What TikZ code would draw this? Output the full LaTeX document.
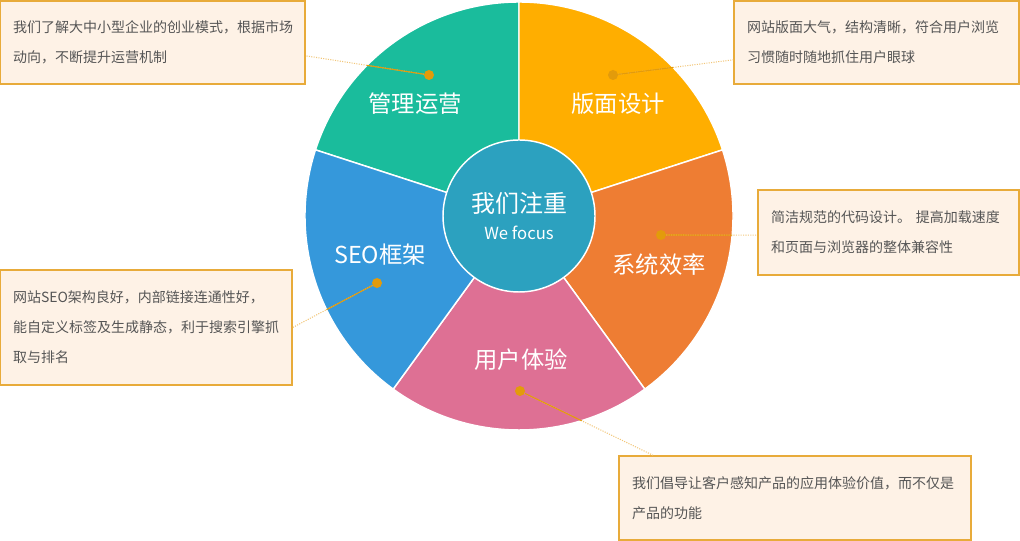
\documentclass[tikz,border=0pt]{standalone}
\usepackage{fontspec}
\newfontfamily\cjk{Noto Sans CJK SC}
\usepackage{xcolor}
\usepackage{tikz}

\definecolor{secteal}{HTML}{1ABC9C}
\definecolor{secgold}{HTML}{FFAE00}
\definecolor{secorange}{HTML}{EE7D33}
\definecolor{secpink}{HTML}{DE7094}
\definecolor{secblue}{HTML}{3598DB}
\definecolor{hubblue}{HTML}{2CA1BF}
\definecolor{notefill}{HTML}{FEF2E6}
\definecolor{noteline}{HTML}{E8AB3A}
\definecolor{pindot}{HTML}{E39B0B}
\definecolor{pinfaint}{HTML}{F2C679}
\definecolor{notetext}{HTML}{555555}

\begin{document}
\begin{tikzpicture}[
x=0.75pt,
y=0.75pt,
every node/.style={font=\cjk},
sector/.style={draw=white,line width=1.1pt},
hubdisc/.style={circle,fill=hubblue,draw=white,line width=1.1pt,minimum size=114pt,inner sep=0pt,text=white,align=center},
seclabel/.style={text=white,font=\cjk\fontsize{17.5}{20}\selectfont},
pin/.style={circle,fill=pindot,inner sep=0pt,minimum size=7.5pt},
note/.style={rectangle,fill=notefill,draw=noteline,line width=1.1pt,text=notetext,align=left,inner xsep=9.75pt,inner ysep=0pt,font=\cjk\fontsize{10.5}{22.5}\selectfont},
pinnear/.style={draw=pindot,line width=0.8pt},
pinfar/.style={draw=pinfaint,line width=0.8pt,densely dotted}
]
\useasboundingbox (0,0) rectangle (1020,541);

% pie
\coordinate (pie) at (519,325);
\foreach \a/\c in {90/secteal,18/secgold,-54/secorange,-126/secpink,162/secblue}
  \filldraw[sector,fill=\c] (pie) -- ++(\a:160.5pt) arc[start angle=\a,delta angle=72,radius=160.5pt] -- cycle;

\node[seclabel] (lab1) at (415,437) {管理运营};
\node[seclabel] (lab2) at (618,437) {版面设计};
\node[seclabel] (lab3) at (659,276) {系统效率};
\node[seclabel] (lab4) at (521,181) {用户体验};
\node[seclabel] (lab5) at (380,286) {SEO框架};

\node[hubdisc] (hub) at (pie) {{\fontsize{18}{26}\selectfont 我们注重}\\[8pt]{\fontsize{12.5}{26}\selectfont We focus}};

% notes
\node[note,minimum width=228.75pt,minimum height=62.25pt,text width=209pt] (n1) at (152.5,498.5) {我们了解大中小型企业的创业模式，根据市场\\动向，不断提升运营机制};
\node[note,minimum width=213.75pt,minimum height=62.25pt,text width=194pt] (n2) at (876.5,498.5) {网站版面大气，结构清晰，符合用户浏览\\习惯随时随地抓住用户眼球};
\node[note,minimum width=195.75pt,minimum height=63.75pt,text width=176pt] (n3) at (888.5,308.5) {简洁规范的代码设计。 提高加载速度\\和页面与浏览器的整体兼容性};
\node[note,minimum width=219pt,minimum height=86.25pt,text width=199.5pt] (n4) at (146,213.5) {网站SEO架构良好，内部链接连通性好，\\能自定义标签及生成静态，利于搜索引擎抓\\取与排名};
\node[note,minimum width=264pt,minimum height=63pt,text width=244.5pt] (n5) at (795,43) {我们倡导让客户感知产品的应用体验价值，而不仅是\\产品的功能};

% pins
\node[pin] (d1) at (429,466) {};
\node[pin] (d2) at (613,466) {};
\node[pin] (d3) at (661,306) {};
\node[pin] (d4) at (520,150) {};
\node[pin] (d5) at (377,258) {};

\coordinate (e1) at ([yshift=-10pt]n1.east);
\coordinate (e2) at ([yshift=-13pt]n2.west);
\coordinate (e3) at ([yshift=-2pt]n3.west);
\coordinate (e4) at (n4.east);
\coordinate (e5) at ([xshift=-106.5pt]n5.north);

\foreach \p/\q in {d1/e1,d2/e2,d3/e3,d4/e5,d5/e4}
  \draw[pinfar] (\p) -- (\q);
\begin{scope}
\clip (pie) circle (160.5pt);
\foreach \p/\q in {d1/e1,d2/e2,d3/e3,d4/e5,d5/e4}
  \draw[pinnear] (\p) -- (\q);
\end{scope}
\end{tikzpicture}
\end{document}
